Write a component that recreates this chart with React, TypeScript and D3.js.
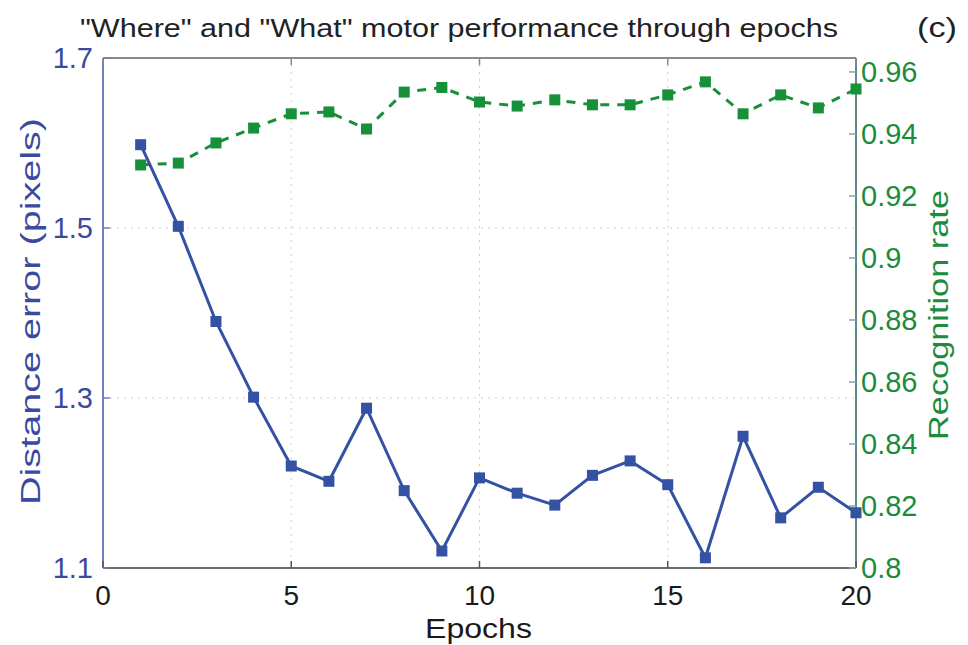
import React from "react";
import * as d3 from "d3";

const epochs = [1, 2, 3, 4, 5, 6, 7, 8, 9, 10, 11, 12, 13, 14, 15, 16, 17, 18, 19, 20];
const distanceError = [1.598, 1.502, 1.39, 1.301, 1.22, 1.202, 1.288, 1.191, 1.12, 1.206, 1.188, 1.174, 1.209, 1.226, 1.198, 1.112, 1.255, 1.159, 1.195, 1.165];
const recognitionRate = [0.93, 0.9306, 0.9371, 0.9419, 0.9465, 0.9471, 0.9416, 0.9535, 0.955, 0.9503, 0.949, 0.951, 0.9494, 0.9494, 0.9526, 0.9568, 0.9465, 0.9526, 0.9484, 0.9545];
const xTicks = [0, 5, 10, 15, 20];
const leftTicks = [1.1, 1.3, 1.5, 1.7];
const rightTicks = [0.8, 0.82, 0.84, 0.86, 0.88, 0.9, 0.92, 0.94, 0.96];

const W = 968, H = 645;
const L = 103, R = 856, T = 58, B = 568;
const FONT = "'Liberation Sans', Arial, Helvetica, sans-serif";
const BLUE = "#3352a4";
const BLUE_TXT = "#3a4a9e";
const GREEN = "#17903a";
const GREEN_TXT = "#1c8c3c";

export default function App() {
  const x = d3.scaleLinear().domain([0, 20]).range([L, R]);
  const yL = d3.scaleLinear().domain([1.1, 1.7]).range([B, T]);
  const yR = d3.scaleLinear().domain([0.8, 0.9645]).range([B, T]);
  const blueLine = d3.line<number>().x((_, i) => x(epochs[i])).y((d) => yL(d))(distanceError) || "";
  const greenLine = d3.line<number>().x((_, i) => x(epochs[i])).y((d) => yR(d))(recognitionRate) || "";
  const ms = 11;
  return (
    <svg width={W} height={H} style={{ position: "absolute", left: 0, top: 0, background: "#fff" }} fontFamily={FONT}>
      <rect x={0} y={0} width={W} height={H} fill="#fff" />
      {/* grid */}
      {xTicks.filter((t) => t > 0 && t < 20).map((t) => (
        <line key={"gx" + t} x1={x(t)} x2={x(t)} y1={T} y2={B} stroke="#cfcfcf" strokeWidth={1} strokeDasharray="2,5" />
      ))}
      {leftTicks.filter((t) => t > 1.1 && t < 1.7).map((t) => (
        <line key={"gy" + t} x1={L} x2={R} y1={yL(t)} y2={yL(t)} stroke="#cfcfcf" strokeWidth={1} strokeDasharray="2,5" />
      ))}
      {/* box */}
      <line x1={L} x2={R} y1={T} y2={T} stroke="#8a8a8a" strokeWidth={2} />
      <line x1={L} x2={R} y1={B} y2={B} stroke="#6a6a6a" strokeWidth={2} />
      <line x1={L} x2={L} y1={T} y2={B} stroke="#6f7fbf" strokeWidth={2} />
      <line x1={R} x2={R} y1={T} y2={B} stroke="#5f8a8a" strokeWidth={2} />
      {/* x ticks */}
      {xTicks.map((t) => (
        <g key={"xt" + t}>
          <line x1={x(t)} x2={x(t)} y1={B} y2={B - 7} stroke="#555" strokeWidth={1.5} />
          <line x1={x(t)} x2={x(t)} y1={T} y2={T + 7} stroke="#888" strokeWidth={1.5} />
          <text x={x(t)} y={605} textAnchor="middle" fontSize={28} fill="#1a1a1a">{t}</text>
        </g>
      ))}
      {/* left ticks */}
      {leftTicks.map((t) => (
        <g key={"lt" + t}>
          <line x1={L} x2={L + 7} y1={yL(t)} y2={yL(t)} stroke="#6f7fbf" strokeWidth={1.5} />
          <text x={93} y={yL(t) + 10} textAnchor="end" fontSize={29} fill={BLUE_TXT}>{t.toFixed(1)}</text>
        </g>
      ))}
      {/* right ticks */}
      {rightTicks.map((t) => (
        <g key={"rt" + t}>
          <line x1={R} x2={R - 7} y1={yR(t)} y2={yR(t)} stroke="#7fa8a0" strokeWidth={1.5} />
          <text x={861} y={yR(t) + 10} textAnchor="start" fontSize={29} fill={GREEN_TXT}>{String(+t.toFixed(2))}</text>
        </g>
      ))}
      {/* series */}
      <path d={greenLine} fill="none" stroke={GREEN} strokeWidth={3} strokeDasharray="9,8" />
      {recognitionRate.map((d, i) => (
        <rect key={"gm" + i} x={x(epochs[i]) - ms / 2} y={yR(d) - ms / 2} width={ms} height={ms} fill={GREEN} />
      ))}
      <path d={blueLine} fill="none" stroke={BLUE} strokeWidth={3} />
      {distanceError.map((d, i) => (
        <rect key={"bm" + i} x={x(epochs[i]) - ms / 2} y={yL(d) - ms / 2} width={ms} height={ms} fill={BLUE} />
      ))}
      {/* labels */}
      <text x={80} y={37} textAnchor="start" fontSize={26} fill="#222" textLength={758} lengthAdjust="spacingAndGlyphs">"Where" and "What" motor performance through epochs</text>
      <text x={917} y={37} textAnchor="start" fontSize={27} fill="#222" textLength={40} lengthAdjust="spacingAndGlyphs">(c)</text>
      <text x={425} y={638} textAnchor="start" fontSize={27} fill="#1a1a1a" textLength={107} lengthAdjust="spacingAndGlyphs">Epochs</text>
      <text transform={`translate(40,505) rotate(-90)`} textAnchor="start" fontSize={27} fill={BLUE_TXT} textLength={387} lengthAdjust="spacingAndGlyphs">Distance error (pixels)</text>
      <text transform={`translate(948,440) rotate(-90)`} textAnchor="start" fontSize={27} fill={GREEN_TXT} textLength={250} lengthAdjust="spacingAndGlyphs">Recognition rate</text>
    </svg>
  );
}
